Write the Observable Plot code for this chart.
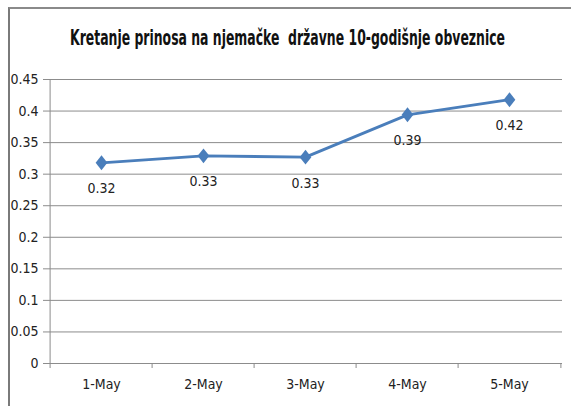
<!DOCTYPE html>
<html>
<head>
<meta charset="utf-8">
<script src="https://cdn.jsdelivr.net/npm/d3@7"></script>
<script src="https://cdn.jsdelivr.net/npm/@observablehq/plot@0.6"></script>
<style>
  html, body { margin: 0; padding: 0; background: #fff; }
  #wrap { position: relative; width: 571px; height: 406px; overflow: hidden; background: #fff; }
  #frame { position: absolute; left: 8px; top: 7px; width: 600px; height: 500px;
           border-top: 2px solid #8a8a8a; border-left: 2px solid #7a7a7a; box-sizing: border-box; }
  #title { position: absolute; top: 26px; left: 0; white-space: nowrap; font-weight: bold;
           font-family: "Liberation Sans Narrow", "DejaVu Sans Condensed", "Open Sans", sans-serif;
           font-size: 21px; color: #111; transform-origin: 0 50%; line-height: 24px; }
  #chart { position: absolute; left: 0; top: 0; }
</style>
</head>
<body>
<div id="wrap">
  <div id="frame"></div>
  <div id="chart"></div>
  <div id="title">Kretanje prinosa na njemačke&nbsp; državne 10-godišnje obveznice</div>
</div>
<script>
// ---- data ----
const dates = ["1-May", "2-May", "3-May", "4-May", "5-May"];
const yields = [0.318, 0.329, 0.327, 0.394, 0.418];
const yTicks = [0, 0.05, 0.1, 0.15, 0.2, 0.25, 0.3, 0.35, 0.4, 0.45];

const data = dates.map((d, i) => ({date: d, value: yields[i], label: yields[i].toFixed(2)}));

const FONT = '"Liberation Sans Narrow", "DejaVu Sans Condensed", "Open Sans", sans-serif';
const W = 571, H = 406, ML = 48, MR = 9, MT = 79, MB = 43;
const bw = (W - ML - MR) / dates.length;
const GRID = "#8c8c8c";
const BLUE = "#4a7ebb";

// Taller-than-wide diamond marker
const diamond = {
  draw(ctx, size) {
    const r = Math.sqrt(size / Math.PI);
    const h = r * 1.15, w = r * 0.9;
    ctx.moveTo(0, -h); ctx.lineTo(w, 0); ctx.lineTo(0, h); ctx.lineTo(-w, 0); ctx.closePath();
  }
};

const chart = Plot.plot({
  width: W, height: H,
  marginLeft: ML, marginRight: MR, marginTop: MT, marginBottom: MB,
  style: {fontFamily: FONT, fontSize: "14px", color: "#222", background: "transparent", overflow: "visible"},
  x: {type: "band", domain: dates, padding: 0, align: 0.5},
  y: {domain: [0, 0.45]},
  marks: [
    Plot.gridY(yTicks, {stroke: GRID, strokeOpacity: 1, strokeWidth: 1}),
    Plot.axisY(yTicks, {tickSize: 5, tickPadding: 5, stroke: GRID, strokeOpacity: 1,
      tickFormat: d => String(+d.toFixed(2)), fontSize: 14, label: null}),
    Plot.ruleX([dates[0]], {dx: -bw / 2, y1: 0, y2: 0.45, stroke: GRID}),
    Plot.ruleY([0], {stroke: GRID}),
    Plot.axisX({tickSize: 0, tickPadding: 16, fontSize: 14, label: null}),
    Plot.ruleX(dates, {dx: -bw / 2, y1: 0, y2: 0, insetBottom: -5, stroke: GRID}),
    Plot.ruleX([dates[dates.length - 1]], {dx: bw / 2, y1: 0, y2: 0, insetBottom: -5, stroke: GRID}),
    Plot.line(data, {x: "date", y: "value", stroke: BLUE, strokeWidth: 2.8}),
    Plot.dot(data, {x: "date", y: "value", symbol: diamond, r: 6.5, fill: BLUE, stroke: "none"}),
    Plot.text(data, {x: "date", y: "value", text: "label", dy: 26, fontSize: 14, fill: "#222"})
  ]
});
document.getElementById("chart").appendChild(chart);

// Fit the title to the reference width, centred
const t = document.getElementById("title");
const tw = t.getBoundingClientRect().width;
const target = 435;
const sx = target / tw;
t.style.left = (287.5 - target / 2) + "px";
t.style.transform = `scaleX(${sx})`;
</script>
</body>
</html>
